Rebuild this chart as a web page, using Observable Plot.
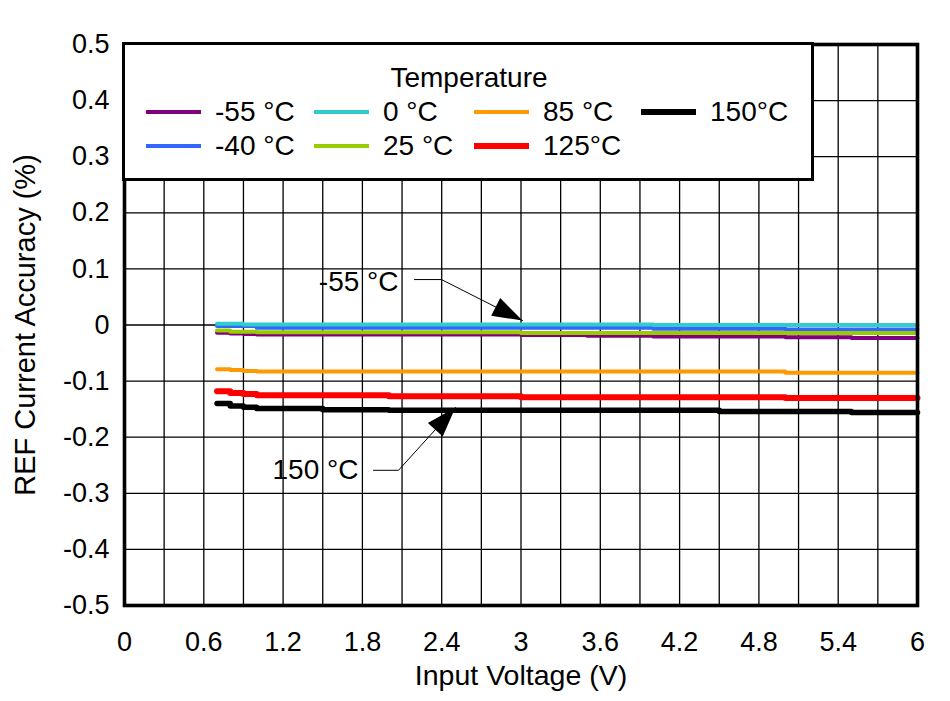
<!DOCTYPE html>
<html>
<head>
<meta charset="utf-8">
<script src="https://cdn.jsdelivr.net/npm/d3@7"></script>
<script src="https://cdn.jsdelivr.net/npm/@observablehq/plot@0.6"></script>
<style>
  body { margin: 0; background: #fff; font-family: "Liberation Sans", Arial, sans-serif; }
  #wrap { position: relative; width: 950px; height: 701px; }
  #legend { position: absolute; left: 122px; top: 42px; width: 692px; height: 139px;
            border: 3.6px solid #000; background: #fff; box-sizing: border-box; }
  .lg { position: absolute; font-size: 28px; line-height: 32px; color: #000; white-space: nowrap; }
  .sw { position: absolute; height: 4px; }
</style>
</head>
<body>
<div id="wrap"></div>
<script>
// ---- data ----
const voltage = [0.7, 0.8, 0.9, 1.0, 1.5, 2.0, 2.5, 3.0, 3.5, 4.0, 4.5, 5.0, 5.5, 6.0];
const temps  = ["-55 °C", "-40 °C", "0 °C", "25 °C", "85 °C", "125°C", "150°C"];
const colors = ["#800080", "#3366FF", "#33CCCC", "#99CC00", "#FF9900", "#FF0000", "#000000"];
const widths = [4, 4, 4, 4, 4, 6, 5.5];

const accM55  = [-0.014, -0.015, -0.016, -0.017, -0.017, -0.017, -0.017, -0.018, -0.019, -0.0205, -0.0205, -0.022, -0.023, -0.023];
const accM40  = [-0.002, -0.002, -0.002, -0.005, -0.005, -0.005, -0.005, -0.005, -0.005, -0.0068, -0.0068, -0.008, -0.008, -0.008];
const acc0    = [0.0024, 0.0024, 0.001, 0.001, 0.001, 0.001, 0.001, 0.001, 0.001, 0.0, 0.0, 0.0, 0.0, 0.0];
const acc25   = [-0.010, -0.012, -0.012, -0.0128, -0.0128, -0.0128, -0.0128, -0.0143, -0.0143, -0.0143, -0.0143, -0.0143, -0.0143, -0.0143];
const acc85   = [-0.079, -0.080, -0.082, -0.083, -0.083, -0.083, -0.083, -0.083, -0.083, -0.083, -0.083, -0.085, -0.085, -0.085];
const acc125  = [-0.118, -0.121, -0.123, -0.125, -0.125, -0.127, -0.127, -0.129, -0.129, -0.129, -0.129, -0.130, -0.130, -0.130];
const acc150  = [-0.140, -0.1446, -0.1464, -0.149, -0.151, -0.152, -0.152, -0.152, -0.152, -0.152, -0.154, -0.154, -0.156, -0.156];
const series = [accM55, accM40, acc0, acc25, acc85, acc125, acc150];

const xTicks = [0, 0.6, 1.2, 1.8, 2.4, 3, 3.6, 4.2, 4.8, 5.4, 6];
const yTicks = [-0.5, -0.4, -0.3, -0.2, -0.1, 0, 0.1, 0.2, 0.3, 0.4, 0.5];
const xGrid = [0, 0.3, 0.6, 0.9, 1.2, 1.5, 1.8, 2.1, 2.4, 2.7, 3, 3.3, 3.6, 3.9, 4.2, 4.5, 4.8, 5.1, 5.4, 5.7, 6];

// annotations
const annoText = ["-55 °C", "150 °C"];
const annoTextX = [2.073, 1.770];
const annoTextY = [0.076, -0.259];
const leaderM55 = [[2.194, 0.081], [2.398, 0.081], [3.011, 0.008]];
const leader150 = [[1.884, -0.259], [2.073, -0.259], [2.504, -0.147]];
const arrowTips = [[3.011, 0.008, 116.9], [2.504, -0.147, 42.2]];

// ---- build ----
const arrowHead = {
  draw(ctx) { ctx.moveTo(0, 0); ctx.lineTo(-10, 30); ctx.lineTo(10, 30); ctx.closePath(); }
};

const lineMarks = series.map((vals, i) =>
  Plot.line(voltage.map((v, j) => ({v, a: vals[j]})), {
    x: "v", y: "a", stroke: colors[i], strokeWidth: widths[i], curve: "step-after"
  })
);

const annoRows = annoText.map((t, i) => ({t, x: annoTextX[i], y: annoTextY[i]}));

const chart = Plot.plot({
  width: 950, height: 701,
  marginLeft: 124, marginRight: 33, marginTop: 44, marginBottom: 96,
  x: {domain: [0, 6]},
  y: {domain: [-0.5, 0.5]},
  style: {fontFamily: "'Liberation Sans', Arial, sans-serif", color: "#000", background: "#fff", overflow: "visible"},
  marks: [
    Plot.ruleX(xGrid, {stroke: "#000", strokeWidth: 1.3}),
    Plot.ruleY(yTicks, {stroke: "#000", strokeWidth: 1.3}),
    ...lineMarks,
    Plot.line(leaderM55, {x: d => d[0], y: d => d[1], stroke: "#000", strokeWidth: 1}),
    Plot.line(leader150, {x: d => d[0], y: d => d[1], stroke: "#000", strokeWidth: 1}),
    Plot.dot(arrowTips, {x: d => d[0], y: d => d[1], rotate: d => d[2], symbol: arrowHead, r: 10, fill: "#000", stroke: "none"}),
    Plot.text(annoRows, {x: "x", y: "y", text: "t", textAnchor: "end", fontSize: 28, fill: "#000"}),
    Plot.frame({stroke: "#000", strokeWidth: 3.6}),
    Plot.axisX(xTicks, {tickSize: 0, tickPadding: 26, tickFormat: d => String(d), fontSize: 27, label: null}),
    Plot.axisY(yTicks, {tickSize: 0, tickPadding: 15, tickFormat: d => String(d), fontSize: 27, label: null}),
    Plot.text(["REF Current Accuracy (%)"], {text: d => d, frameAnchor: "left", dx: -99, rotate: -90, textAnchor: "middle", lineAnchor: "middle", fontSize: 29, fill: "#000"}),
    Plot.text(["Input Voltage (V)"], {text: d => d, frameAnchor: "bottom", dy: 70, textAnchor: "middle", lineAnchor: "middle", fontSize: 28.5, fill: "#000"})
  ]
});

const wrap = document.getElementById("wrap");
wrap.appendChild(chart);

// ---- legend (HTML overlay inside plot area) ----
const legend = document.createElement("div");
legend.id = "legend";
wrap.appendChild(legend);

function addEl(cls, left, top, text, extra) {
  const el = document.createElement("div");
  el.className = cls;
  el.style.left = left + "px";
  el.style.top = top + "px";
  if (text) el.textContent = text;
  if (extra) Object.assign(el.style, extra);
  wrap.appendChild(el);
  return el;
}
const title = addEl("lg", 0, 78 - 16, "Temperature");
title.style.width = (469 * 2) + "px";
title.style.textAlign = "center";

const colSwatchX = [146, 314, 474, 641];
const rowY = [112, 146];
temps.forEach((t, i) => {
  const col = Math.floor(i / 2), row = i % 2;
  const sx = colSwatchX[col], sy = rowY[row];
  addEl("sw", sx, sy - widths[i] / 2, null, {width: "55px", height: widths[i] + "px", background: colors[i]});
  addEl("lg", sx + 69, sy - 16, t);
});
</script>
</body>
</html>
